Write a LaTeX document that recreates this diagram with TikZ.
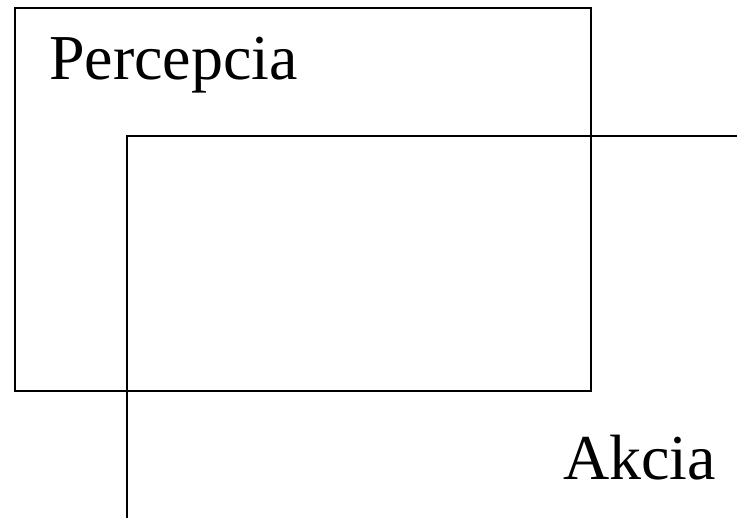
\documentclass[tikz,border=0pt]{standalone}
\usepackage{fontspec}
\setmainfont{Liberation Serif}
\begin{document}
\begin{tikzpicture}[x=1pt,y=-1pt,
  frame/.style={draw=black,line width=1.6pt},
  lbl/.style={inner sep=0pt,anchor=base west,font=\fontsize{64}{72}\selectfont}]
\useasboundingbox (0,0) rectangle (737,532);
\draw[frame] (15,8) rectangle (591,391);
\coordinate (c1) at (127,518);
\coordinate (c2) at (127,136);
\coordinate (c3) at (737,136);
\draw[frame] (c1) -- (c2) -- (c3);
\node[lbl] (perc) at (49,80) {Percepcia};
\node[lbl] (akcia) at (563,479) {Akcia};
\end{tikzpicture}
\end{document}
